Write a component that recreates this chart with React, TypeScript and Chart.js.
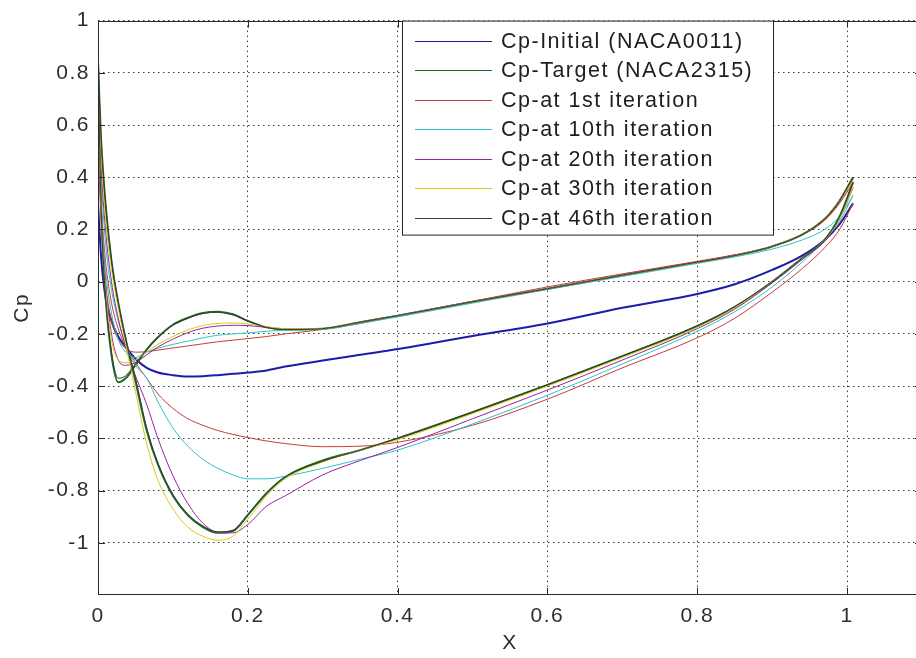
import React, { useEffect, useRef } from 'react';
import { Chart, registerables } from 'chart.js';

Chart.register(...registerables);

// ---------- data ----------
const seriesLabels = [
  'Cp-Initial (NACA0011)',
  'Cp-Target (NACA2315)',
  'Cp-at 1st iteration',
  'Cp-at 10th iteration',
  'Cp-at 20th iteration',
  'Cp-at 30th iteration',
  'Cp-at 46th iteration',
];

const xTickValues = [0, 0.2, 0.4, 0.6, 0.8, 1];
const yTickValues = [1, 0.8, 0.6, 0.4, 0.2, 0, -0.2, -0.4, -0.6, -0.8, -1];

// chordwise stations (x/c)
const xStations = [0, 0.004, 0.01, 0.018, 0.027, 0.037, 0.05, 0.065, 0.08, 0.1, 0.12, 0.14, 0.16, 0.18, 0.2, 0.225, 0.25, 0.3, 0.35, 0.4, 0.5, 0.6, 0.7, 0.8, 0.85, 0.9, 0.94, 0.97, 0.99, 1.008];

// Initial NACA0011 (symmetric: both surfaces coincide)
const initialCp = [0.3, 0.1, -0.06, -0.15, -0.21, -0.25, -0.295, -0.33, -0.348, -0.358, -0.363, -0.362, -0.358, -0.353, -0.348, -0.34, -0.325, -0.302, -0.28, -0.258, -0.208, -0.16, -0.1, -0.047, -0.01, 0.045, 0.1, 0.16, 0.22, 0.3];

// Target NACA2315
const targetSuction = [0.84, 0.55, 0.3, 0.08, -0.08, -0.22, -0.38, -0.57, -0.7, -0.82, -0.895, -0.94, -0.962, -0.955, -0.894, -0.81, -0.748, -0.685, -0.645, -0.6, -0.5, -0.395, -0.285, -0.17, -0.097, 0.0, 0.09, 0.16, 0.25, 0.38];
const targetPressure = [0.84, 0.3, -0.05, -0.28, -0.385, -0.37, -0.32, -0.26, -0.213, -0.165, -0.138, -0.12, -0.115, -0.125, -0.15, -0.175, -0.183, -0.18, -0.155, -0.13, -0.077, -0.027, 0.025, 0.074, 0.1, 0.135, 0.18, 0.24, 0.31, 0.4];

// 1st iteration
const iter1Suction = [0.5, 0.3, 0.08, -0.08, -0.18, -0.25, -0.31, -0.37, -0.43, -0.485, -0.525, -0.55, -0.57, -0.585, -0.597, -0.61, -0.62, -0.632, -0.63, -0.615, -0.55, -0.45, -0.33, -0.215, -0.14, -0.04, 0.05, 0.13, 0.2, 0.3];
const iter1Pressure = [0.5, 0.25, 0.0, -0.15, -0.22, -0.255, -0.27, -0.268, -0.262, -0.254, -0.246, -0.238, -0.23, -0.224, -0.218, -0.21, -0.2, -0.183, -0.16, -0.13, -0.075, -0.02, 0.03, 0.078, 0.103, 0.135, 0.18, 0.235, 0.3, 0.38];

// 10th iteration
const iter10Suction = [0.62, 0.4, 0.15, -0.03, -0.15, -0.24, -0.32, -0.37, -0.46, -0.56, -0.63, -0.68, -0.715, -0.74, -0.755, -0.755, -0.745, -0.715, -0.68, -0.645, -0.545, -0.435, -0.315, -0.19, -0.115, -0.02, 0.075, 0.16, 0.23, 0.33];
const iter10Pressure = [0.62, 0.3, 0.05, -0.12, -0.22, -0.27, -0.29, -0.27, -0.255, -0.24, -0.228, -0.215, -0.205, -0.2, -0.196, -0.19, -0.186, -0.183, -0.16, -0.135, -0.082, -0.03, 0.02, 0.07, 0.095, 0.125, 0.16, 0.2, 0.25, 0.33];

// 20th iteration
const iter20Suction = [0.7, 0.45, 0.2, 0.0, -0.14, -0.25, -0.36, -0.47, -0.6, -0.743, -0.85, -0.925, -0.96, -0.962, -0.93, -0.86, -0.82, -0.74, -0.685, -0.635, -0.525, -0.415, -0.3, -0.18, -0.105, -0.005, 0.085, 0.155, 0.24, 0.36];
const iter20Pressure = [0.7, 0.3, 0.0, -0.2, -0.3, -0.32, -0.31, -0.28, -0.25, -0.22, -0.195, -0.178, -0.17, -0.167, -0.168, -0.175, -0.18, -0.18, -0.155, -0.13, -0.077, -0.027, 0.025, 0.074, 0.1, 0.135, 0.18, 0.24, 0.31, 0.39];

// 30th iteration
const iter30Suction = [0.78, 0.5, 0.25, 0.05, -0.1, -0.24, -0.42, -0.62, -0.76, -0.87, -0.94, -0.975, -0.99, -0.975, -0.91, -0.82, -0.755, -0.69, -0.645, -0.605, -0.505, -0.4, -0.29, -0.175, -0.1, 0.0, 0.09, 0.16, 0.24, 0.36];
const iter30Pressure = [0.78, 0.3, -0.02, -0.22, -0.3, -0.31, -0.3, -0.27, -0.24, -0.21, -0.185, -0.168, -0.16, -0.158, -0.162, -0.172, -0.18, -0.18, -0.155, -0.13, -0.077, -0.027, 0.025, 0.074, 0.1, 0.135, 0.18, 0.24, 0.31, 0.39];

// 46th iteration
const iter46Suction = [0.84, 0.55, 0.3, 0.08, -0.08, -0.22, -0.37, -0.56, -0.695, -0.815, -0.89, -0.935, -0.958, -0.952, -0.892, -0.81, -0.748, -0.688, -0.645, -0.6, -0.5, -0.395, -0.285, -0.168, -0.095, 0.0, 0.09, 0.16, 0.25, 0.38];
const iter46Pressure = [0.84, 0.3, -0.05, -0.27, -0.37, -0.36, -0.315, -0.26, -0.213, -0.166, -0.14, -0.122, -0.117, -0.127, -0.15, -0.175, -0.183, -0.18, -0.155, -0.13, -0.077, -0.027, 0.025, 0.075, 0.1, 0.135, 0.18, 0.24, 0.31, 0.4];

const seriesBranches: number[][][] = [
  [initialCp],
  [targetSuction, targetPressure],
  [iter1Suction, iter1Pressure],
  [iter10Suction, iter10Pressure],
  [iter20Suction, iter20Pressure],
  [iter30Suction, iter30Pressure],
  [iter46Suction, iter46Pressure],
];

// ---------- styles ----------
const seriesColors = ['#1c1ca6', '#1f6b25', '#c83a3a', '#2cc4c4', '#9a22a0', '#d6cc10', '#3a3a3a'];
const seriesWidths = [2, 2, 1, 1, 1, 1, 1];
const FONT = "'Liberation Sans', Arial, Helvetica, sans-serif";

const frameTicksPlugin = {
  id: 'frameTicks',
  beforeDraw(chart: any) {
    const ctx = chart.ctx;
    ctx.fillStyle = '#ffffff';
    ctx.fillRect(0, 0, chart.width, chart.height);
    try { (ctx as any).letterSpacing = '1.5px'; } catch (e) { /* ignore */ }
  },
  afterDatasetsDraw(chart: any) {
    const { ctx, chartArea: a, scales } = chart;
    const xs = scales.x;
    const ys = scales.y;
    ctx.save();
    ctx.strokeStyle = '#2a2a2a';
    ctx.lineWidth = 1;
    ctx.setLineDash([]);
    ctx.strokeRect(Math.round(a.left) + 0.5, Math.round(a.top) + 0.5, Math.round(a.right - a.left) - 1, Math.round(a.bottom - a.top) - 1);
    const tk = 7;
    ctx.beginPath();
    for (const v of xTickValues) {
      const px = Math.round(xs.getPixelForValue(v)) + 0.5;
      ctx.moveTo(px, a.bottom);
      ctx.lineTo(px, a.bottom - tk);
      ctx.moveTo(px, a.top);
      ctx.lineTo(px, a.top + tk);
    }
    for (const v of yTickValues) {
      const py = Math.round(ys.getPixelForValue(v)) + 0.5;
      ctx.moveTo(a.left, py);
      ctx.lineTo(a.left + tk, py);
      ctx.moveTo(a.right, py);
      ctx.lineTo(a.right - tk, py);
    }
    ctx.stroke();
    ctx.restore();
  },
  afterDraw(chart: any) {
    const { ctx, chartArea: a } = chart;
    const L = a.left + 304;
    const T = a.top;
    const W = 371;
    const H = 214;
    ctx.save();
    ctx.setLineDash([]);
    ctx.fillStyle = '#ffffff';
    ctx.fillRect(L, T, W, H);
    ctx.strokeStyle = '#222222';
    ctx.lineWidth = 1;
    ctx.strokeRect(L + 0.5, T + 0.5, W, H);
    ctx.font = `21.5px ${FONT}`;
    ctx.textBaseline = 'middle';
    ctx.textAlign = 'left';
    seriesLabels.forEach((label, i) => {
      const yy = T + 20 + i * 29.5;
      ctx.beginPath();
      ctx.strokeStyle = seriesColors[i];
      ctx.lineWidth = 1;
      ctx.moveTo(L + 13, Math.round(yy) + 0.5);
      ctx.lineTo(L + 90, Math.round(yy) + 0.5);
      ctx.stroke();
      ctx.fillStyle = '#1e1e1e';
      ctx.fillText(label, L + 99, yy + 1);
    });
    ctx.restore();
  },
};

function buildDatasets() {
  const sets: any[] = [];
  seriesBranches.forEach((branches, si) => {
    branches.forEach((cps, bi) => {
      sets.push({
        label: bi === 0 ? seriesLabels[si] : seriesLabels[si] + ' (b)',
        data: xStations.map((x, k) => ({ x, y: cps[k] })),
        borderColor: seriesColors[si],
        backgroundColor: seriesColors[si],
        borderWidth: seriesWidths[si],
        pointRadius: 0,
        pointHoverRadius: 0,
        fill: false,
        cubicInterpolationMode: 'monotone',
        order: 100 - si * 2 - bi,
      });
    });
  });
  return sets;
}

export default function App() {
  const canvasRef = useRef<HTMLCanvasElement | null>(null);

  useEffect(() => {
    if (!canvasRef.current) return;
    const chart = new Chart(canvasRef.current, {
      type: 'line',
      data: { datasets: buildDatasets() },
      options: {
        responsive: false,
        animation: false,
        devicePixelRatio: 1,
        layout: { padding: { top: 15, left: 0, right: 0, bottom: 0 } },
        plugins: {
          legend: { display: false },
          tooltip: { enabled: false },
        },
        scales: {
          x: {
            type: 'linear',
            min: 0,
            max: 1.1,
            afterBuildTicks: (scale: any) => {
              scale.ticks = xTickValues.map((v) => ({ value: v }));
            },
            afterFit: (scale: any) => {
              scale.height = 63;
            },
            grid: {
              color: '#3a3a3a',
              lineWidth: 1,
              drawTicks: false,
            },
            border: { display: false, dash: [1.5, 3.5] },
            ticks: {
              padding: 9,
              color: '#2e2e2e',
              font: { family: FONT, size: 21 },
              maxRotation: 0,
              callback: (v: any) => String(Math.round(Number(v) * 10) / 10),
            },
            title: {
              display: true,
              text: 'X',
              color: '#2e2e2e',
              font: { family: FONT, size: 21 },
              padding: { top: 0, bottom: 2 },
            },
          },
          y: {
            type: 'linear',
            min: -1.2,
            max: 1,
            afterBuildTicks: (scale: any) => {
              scale.ticks = yTickValues.map((v) => ({ value: v }));
            },
            afterFit: (scale: any) => {
              scale.width = 98;
            },
            grid: {
              color: '#3a3a3a',
              lineWidth: 1,
              drawTicks: false,
            },
            border: { display: false, dash: [1.5, 3.5] },
            ticks: {
              padding: 8,
              color: '#2e2e2e',
              font: { family: FONT, size: 21 },
              callback: (v: any) => String(Math.round(Number(v) * 10) / 10),
            },
            title: {
              display: true,
              text: 'Cp',
              color: '#2e2e2e',
              font: { family: FONT, size: 21 },
              padding: { top: 10, bottom: 0 },
            },
          },
        },
      } as any,
      plugins: [frameTicksPlugin],
    });
    return () => chart.destroy();
  }, []);

  return (
    <div
      style={{
        position: 'fixed',
        left: 0,
        top: 0,
        width: 916,
        height: 658,
        overflow: 'hidden',
        background: '#ffffff',
      }}
    >
      <canvas ref={canvasRef} width={922} height={658} style={{ display: 'block' }} />
    </div>
  );
}
